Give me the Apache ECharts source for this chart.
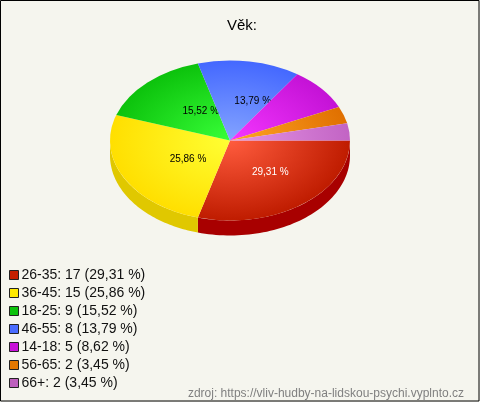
<!DOCTYPE html>
<html><head><meta charset="utf-8">
<style>html,body{margin:0;padding:0;background:#f5f5ee}#c{width:480px;height:402px}</style>
<script src="https://cdn.jsdelivr.net/npm/echarts@6/dist/echarts.min.js"></script>
</head><body><div id="c"></div>
<script>
const categories = ['26-35','36-45','18-25','46-55','14-18','56-65','66+'];
const counts = [17,15,9,8,5,2,2];
const percents = ['29,31','25,86','15,52','13,79','8,62','3,45','3,45'];
const labelled = [true,true,true,true,false,false,false];
const total = counts.reduce((a,b)=>a+b,0);

const innerColors = ['#ff5c3e','#ffff33','#38ff38','#84a4ff','#f436ff','#ffa526','#e595e5'];
const outerColors = ['#bf1c00','#ffdf00','#0cc20c','#4468ff','#c412d6','#e07000','#c264c4'];
const legendColors = ['#c41f00','#ffea00','#0cc20c','#4a6cff','#c812d8','#e57800','#bd5fbd'];
const sideColors = ['#a80000','#e0c800','#0a9a0a','#3050c0','#9a0aa8','#b05800','#985098'];
const labelColors = ['#fff','#000','#000','#000','#000','#000','#000'];
const labelShift = [4,11,12,13,0,0,0];

const CX=230, CY=140.5, RX=120, RY=80, DEPTH=15;
const rad = d=>d*Math.PI/180;
const starts = [];
counts.reduce((s,v,i)=>{starts[i]=s;return s+v/total*360;},0);

function sideShape(a0,a1){
  const e=Math.min(a1,180);
  if(a0>=180) return null;
  const top=[],bot=[];
  for(let a=a0;a<=e+1e-6;a+=Math.max((e-a0)/60,0.5)){
    const x=CX+RX*Math.cos(rad(a)),y=CY+RY*Math.sin(rad(a));
    top.push([x,y]);bot.unshift([x,y+DEPTH]);
  }
  const x=CX+RX*Math.cos(rad(e)),y=CY+RY*Math.sin(rad(e));
  top.push([x,y]);bot.unshift([x,y+DEPTH]);
  return top.concat(bot);
}

const series = categories.map((name,i)=>({
  name, type:'custom', coordinateSystem:'none', silent:true, animation:false,
  itemStyle:{color:legendColors[i]},
  data:[[counts[i]]],
  renderItem(params,api){
    const a0=starts[i], a1=a0+api.value(0)/total*360, mid=(a0+a1)/2;
    const children=[];
    const s=sideShape(a0,a1);
    if(s) children.push({type:'polygon',shape:{points:s},style:{fill:sideColors[i]}});
    children.push({
      type:'sector',
      shape:{cx:CX,cy:CY,r:RX,r0:0,startAngle:rad(a0),endAngle:rad(a1),clockwise:true},
      originX:CX,originY:CY,scaleY:RY/RX,
      style:{fill:{type:'radial',x:CX,y:CY,r:RX,global:true,colorStops:[
        {offset:0,color:innerColors[i]},{offset:1,color:outerColors[i]}]}}
    });
    if(labelled[i]){
      children.push({type:'text',
        x:CX+60*Math.cos(rad(mid))+labelShift[i], y:CY+40*Math.sin(rad(mid)),
        style:{text:percents[i]+' %',fill:labelColors[i],font:'10px "Liberation Sans"',align:'center',verticalAlign:'middle'}});
    }
    return {type:'group',children};
  }
}));

const chart = echarts.init(document.getElementById('c'),null,{renderer:'canvas'});
chart.setOption({
  animation:false,
  backgroundColor:'#f5f5ee',
  title:[
    {text:'Věk:',left:237,top:13,textAlign:'center',textStyle:{fontFamily:'Liberation Sans',fontSize:15,fontWeight:'normal',color:'#000'}},
    {text:'zdroj: https://vliv-hudby-na-lidskou-psychi.vyplnto.cz',right:11,top:383,textStyle:{fontFamily:'Liberation Sans',fontSize:12,fontWeight:'normal',color:'#808080'}}
  ],
  legend:{
    orient:'vertical',left:9,top:268,itemWidth:9,itemHeight:9,itemGap:4,padding:0,
    selectedMode:false,
    data:categories.map((name,i)=>({name,icon:'rect',itemStyle:{color:legendColors[i],borderColor:'#222',borderWidth:1}})),
    formatter:n=>{const i=categories.indexOf(n);return `${n}: ${counts[i]} (${percents[i]} %)`;},
    textStyle:{fontFamily:'Liberation Sans',fontSize:14,color:'#111',padding:[0,0,0,-2]}
  },
  graphic:[{type:'rect',silent:true,z:100,shape:{x:0.5,y:0.5,width:478.5,height:400.5},style:{fill:'none',stroke:'#000',lineWidth:1}}],
  series
});
</script></body></html>
